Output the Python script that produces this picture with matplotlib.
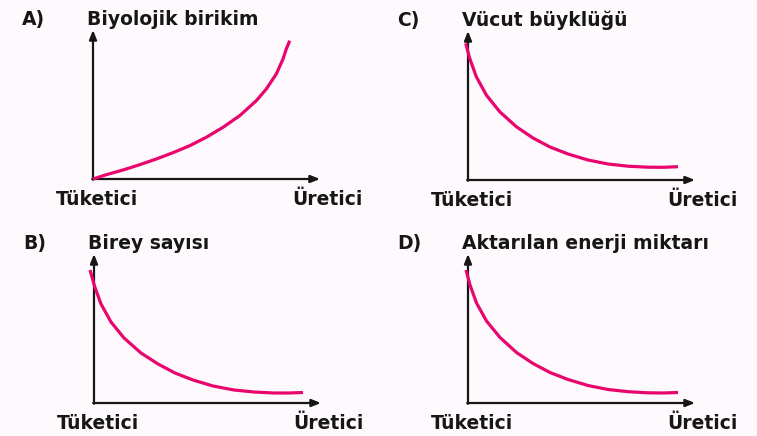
import numpy as np
import matplotlib
matplotlib.use("Agg")
import matplotlib.pyplot as plt

plt.rcParams['font.family'] = ['DejaVu Sans']

# curve points, in pixels from each panel's origin
a_x = [0, 13.3, 30, 46.7, 63.3, 80, 96.7, 113.3, 130, 146.7, 163.3, 173.3, 183.3, 190, 193.3, 196.7]
a_y = [0, 4.3, 9, 14.3, 20, 26.3, 33.3, 41.7, 51.7, 63.3, 78.3, 90, 105, 120, 130, 138.3]

c_x = [-2.3, 1.7, 8.3, 18.3, 31.7, 48.3, 65, 82, 100, 120, 140, 160, 180, 195, 210]
c_y = [136.7, 121.7, 103.3, 85, 68.3, 53.3, 42, 33, 26, 20, 16, 13.8, 12.8, 12.7, 13.3]

b_x = [-4, 0.5, 7, 17, 30, 47, 64, 81, 99, 119, 140, 160, 180, 195, 209]
b_y = [133, 117, 99, 81, 65, 50, 39, 30, 23, 17, 13, 11, 10, 10, 10.5]

d_x = [-2, 2, 8.5, 18.5, 32, 48.5, 65, 82, 100, 120, 140, 160, 180, 195, 210]
d_y = [133, 118, 100, 82, 65.5, 50.5, 39.5, 30.5, 23.5, 17.5, 13.5, 11.3, 10.2, 10, 10.5]

letters = ["A)", "C)", "B)", "D)"]
titles = ["Biyolojik birikim", "Vücut büyklüğü", "Birey sayısı", "Aktarılan enerji miktarı"]
x_left = "Tüketici"
x_right = "Üretici"

W, H = 757, 436
bg = '#fdf9fd'
pink = '#e8066e'
ink = '#161616'

fig = plt.figure(figsize=(W / 100, H / 100), dpi=100, facecolor=bg)

panels = [
    ((93, 179), a_x, a_y),
    ((468, 180), c_x, c_y),
    ((94, 403), b_x, b_y),
    ((468, 403), d_x, d_y),
]

for i, ((ox, oy), xs, ys) in enumerate(panels):
    ax = fig.add_axes([(ox - 10) / W, (H - oy - 10) / H, 250 / W, 170 / H])
    ax.set_xlim(-10, 240)
    ax.set_ylim(-10, 160)
    ax.axis('off')

    # eksenler, ok uclu
    arr = dict(arrowstyle='-|>,head_length=0.55,head_width=0.22', lw=1.6,
               color=ink, shrinkA=0, shrinkB=0)
    ax.annotate('', xy=(0, 149), xytext=(0, -0.8), arrowprops=arr)
    ax.annotate('', xy=(227, 0), xytext=(-0.8, 0), arrowprops=arr)

    ax.plot(xs, ys, color=pink, lw=2.3, solid_capstyle='butt',
            solid_joinstyle='round', zorder=5, clip_on=False)

    kw = dict(fontsize=13.5, fontweight='bold', color=ink, va='baseline')
    ax.text(-71, 154, letters[i], ha='left', **kw)
    ax.text(-6, 154, titles[i], ha='left', **kw)
    ax.text(-37, -26, x_left, ha='left', **kw)
    ax.text(270, -26, x_right, ha='right', **kw)

fig.savefig("out.png", dpi=100, facecolor=bg)
